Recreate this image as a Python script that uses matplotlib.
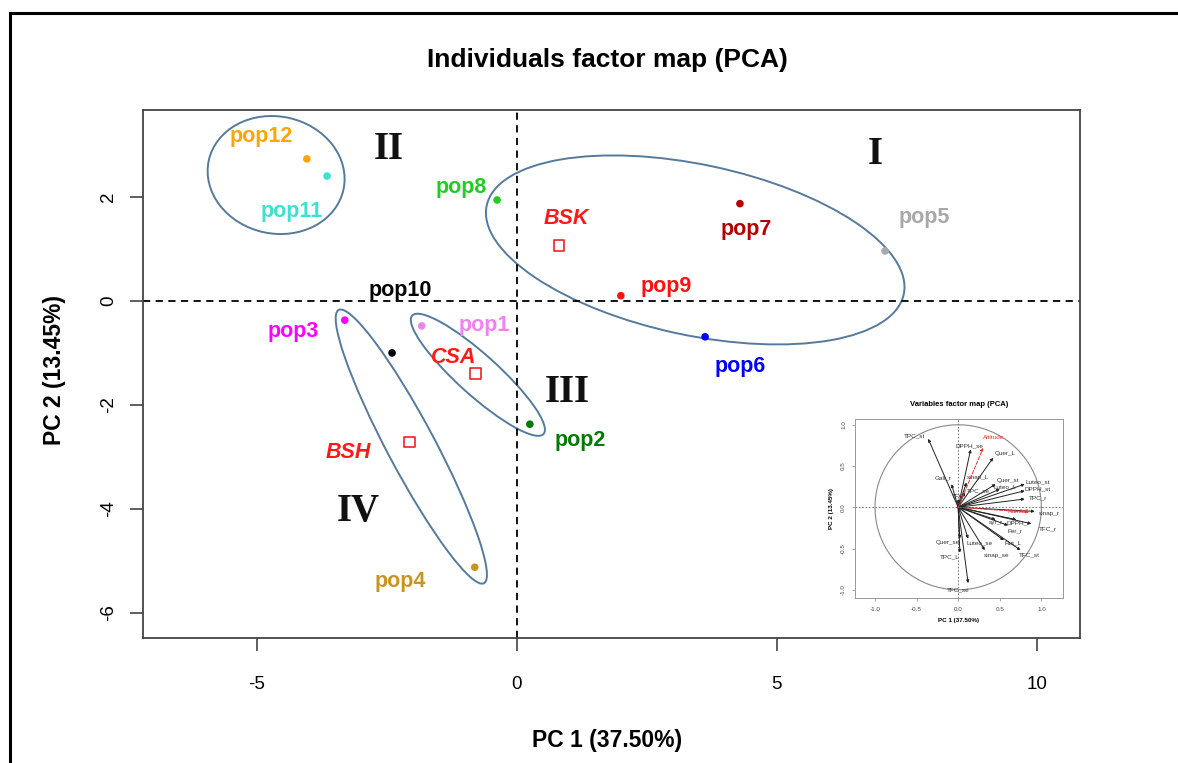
import numpy as np
import matplotlib.pyplot as plt
from matplotlib.patches import Ellipse
from matplotlib.lines import Line2D

plt.rcParams['font.family'] = ['Liberation Sans', 'DejaVu Sans']
plt.rcParams['axes.unicode_minus'] = False

# individuals (PC1, PC2)
pops = ['pop1', 'pop2', 'pop3', 'pop4', 'pop5', 'pop6', 'pop7', 'pop8',
        'pop9', 'pop10', 'pop11', 'pop12']
pc1 = [-1.83, 0.25, -3.31, -0.81, 7.08, 3.62, 4.29, -0.38, 2.00, -2.40, -3.65, -4.04]
pc2 = [-0.48, -2.37, -0.37, -5.12, 0.96, -0.69, 1.87, 1.94, 0.10, -1.00, 2.40, 2.73]
pop_colors = ['#ee82ee', '#007a00', '#ff00ff', '#c8961e', '#a8a8a8', '#0000ff',
              '#b40000', '#22cc22', '#ff1010', '#000000', '#40e0d0', '#ffa500']
# label offsets in pixels (dx, dy)
pop_offsets = [(63, 0), (50, -16), (-52, -11), (-74, -14), (39, 33), (35, -30),
               (6, -26), (-36, 12), (45, 9), (8, 62), (-35, -35), (-46, 22)]

# group barycentres
groups = ['BSK', 'CSA', 'BSH']
grp_x = [0.81, -0.79, -2.06]
grp_y = [1.06, -1.40, -2.71]
grp_offsets = [(7, 27), (-22, 16), (-61, -11)]

# cluster ellipses: centre x, centre y, width, height, angle
ell_cx = [3.43, -4.63, -0.75, -2.03]
ell_cy = [0.98, 2.42, -1.42, -2.80]
ell_w = [8.2, 2.65, 3.40, 5.95]
ell_h = [3.28, 2.25, 0.78, 0.92]
ell_ang = [-12, -12, -42, -62]

# quadrant labels
quad_names = ['I', 'II', 'III', 'IV']
quad_x = [6.9, -2.47, 0.97, -3.05]
quad_y = [2.82, 2.92, -1.77, -4.04]

# variables factor map (inset): arrow tips
var_names = ['TPC_st', 'DPPH_se', 'Quer_L', 'Gall_r', 'sinap_L', 'TPC_se', 'TFC',
             'Quer_st', 'Luteo_st', 'Luteo_L', 'DPPH_st', 'TPC_r',
             'sinap_r', 'syr_r', 'DPPH_r', 'TFC_r', 'Fer_r',
             'Rut_L', 'TFC_st', 'sinap_se', 'Luteo_se', 'Quer_se', 'TPC_L', 'TFC_se']
var_x = [-0.36, 0.15, 0.42, -0.08, 0.10, 0.08, 0.00, 0.45, 0.80, 0.50, 0.80, 0.80,
         0.92, 0.45, 0.70, 0.88, 0.60, 0.55, 0.75, 0.32, 0.12, 0.02, 0.02, 0.12]
var_y = [0.83, 0.70, 0.60, 0.28, 0.30, 0.18, 0.10, 0.28, 0.28, 0.22, 0.20, 0.10,
         -0.05, -0.15, -0.15, -0.20, -0.22, -0.40, -0.52, -0.52, -0.38, -0.38,
         -0.55, -0.92]
sup_names = ['Altitude', 'Rainfall']
sup_x = [0.30, 0.85]
sup_y = [0.72, -0.06]

# inset label positions (layout only)
var_lab = [(-0.52, 0.86), (0.14, 0.75), (0.56, 0.65), (-0.18, 0.36), (0.24, 0.36),
           (0.24, 0.20), (0.00, 0.13), (0.60, 0.32), (0.96, 0.31), (0.56, 0.25),
           (0.96, 0.22), (0.96, 0.11), (1.10, -0.07), (0.46, -0.19), (0.72, -0.19),
           (1.08, -0.26), (0.68, -0.28), (0.66, -0.43), (0.86, -0.58),
           (0.46, -0.58), (0.26, -0.43), (-0.12, -0.43), (-0.10, -0.60),
           (0.00, -1.00)]
sup_lab = [(0.42, 0.84), (0.72, -0.05)]

fig = plt.figure(figsize=(11.78, 7.63), dpi=100)
W, H = 1178, 763

# outer frame of the original picture
fig.add_artist(Line2D([10 / W, 1.0], [1 - 13 / H, 1 - 13 / H], color='black', lw=2.2))
fig.add_artist(Line2D([10 / W, 10 / W], [0.0, 1 - 13 / H], color='black', lw=2.2))

ax = fig.add_axes([143 / W, 1 - 638 / H, 937 / W, 528 / H])
ax.set_xlim(-7.19, 10.83)
ax.set_ylim(-6.48, 3.67)

ax.axhline(0, color='black', ls=(0, (4, 3)), lw=1.3)
ax.axvline(0, color='black', ls=(0, (4, 3)), lw=1.3)

for cx, cy, w, h, a in zip(ell_cx, ell_cy, ell_w, ell_h, ell_ang):
    ax.add_patch(Ellipse((cx, cy), w, h, angle=a, fill=False,
                         edgecolor='#557a9c', lw=1.4))

ax.scatter(pc1, pc2, c=pop_colors, s=30, zorder=3, edgecolors='none')
for name, x, y, col, off in zip(pops, pc1, pc2, pop_colors, pop_offsets):
    ax.annotate(name, (x, y), xytext=off, textcoords='offset pixels',
                ha='center', va='center', color=col, fontsize=15.5,
                fontweight='bold')

ax.scatter(grp_x, grp_y, marker='s', s=60, facecolors='none',
           edgecolors='#ee2222', lw=1.2, zorder=3)
for name, x, y, off in zip(groups, grp_x, grp_y, grp_offsets):
    ax.annotate(name, (x, y), xytext=off, textcoords='offset pixels',
                ha='center', va='center', color='#ff1a1a', fontsize=15.5,
                fontweight='bold', fontstyle='italic')

for name, x, y in zip(quad_names, quad_x, quad_y):
    ax.text(x, y, name, ha='center', va='center', fontsize=28,
            fontweight='bold', family='Liberation Serif', color='#111111')

ax.set_xticks([-5, 0, 5, 10])
ax.set_yticks([-6, -4, -2, 0, 2])
ax.tick_params(length=9.5, width=1.2, color='#444444', labelsize=13.5)
ax.tick_params(axis='x', pad=18)
ax.tick_params(axis='y', pad=9)
for lab in ax.get_yticklabels():
    lab.set_rotation(90)
    lab.set_va('center')
for sp in ax.spines.values():
    sp.set_color('#444444')
    sp.set_linewidth(1.3)

fig.text(607 / W, 1 - 60 / H, 'Individuals factor map (PCA)', ha='center',
         va='center', fontsize=19, fontweight='bold')
fig.text(607 / W, 1 - 740 / H, 'PC 1 (37.50%)', ha='center', va='center',
         fontsize=16.5, fontweight='bold')
fig.text(55 / W, 1 - 370 / H, 'PC 2 (13.45%)', ha='center', va='center',
         fontsize=16.5, fontweight='bold', rotation=90)

# inset: variables factor map
ins = fig.add_axes([855 / W, 1 - 598 / H, 208 / W, 179 / H])
ins.set_xlim(-1.24, 1.26)
ins.set_ylim(-1.10, 1.07)
t = np.linspace(0, 2 * np.pi, 300)
ins.plot(np.cos(t), np.sin(t), color='#888888', lw=0.8)
ins.axhline(0, color='#666666', ls=(0, (2, 2)), lw=0.6)
ins.axvline(0, color='#666666', ls=(0, (2, 2)), lw=0.6)
for name, x, y, (lx, ly) in zip(var_names, var_x, var_y, var_lab):
    ins.annotate('', xy=(x, y), xytext=(0, 0),
                 arrowprops=dict(arrowstyle='-|>', color='#222222', lw=0.7,
                                 mutation_scale=4, shrinkA=0, shrinkB=0))
    ins.text(lx, ly, name, ha='center', va='center', fontsize=4.6,
             color='#333333')
for name, x, y, (lx, ly) in zip(sup_names, sup_x, sup_y, sup_lab):
    ins.annotate('', xy=(x, y), xytext=(0, 0),
                 arrowprops=dict(arrowstyle='-|>', color='#ee3333', lw=0.7,
                                 ls='--', mutation_scale=4, shrinkA=0, shrinkB=0))
    ins.text(lx, ly, name, ha='center', va='center', fontsize=4.6,
             color='#ee3333')
ins.set_xticks([-1.0, -0.5, 0.0, 0.5, 1.0])
ins.set_yticks([-1.0, -0.5, 0.0, 0.5, 1.0])
ins.tick_params(length=2.5, width=0.5, color='#888888', labelsize=4.5, pad=4,
                labelcolor='#444444')
for lab in ins.get_yticklabels():
    lab.set_rotation(90)
    lab.set_va('center')
for sp in ins.spines.values():
    sp.set_color('#999999')
    sp.set_linewidth(0.7)
ins.set_title('Variables factor map (PCA)', fontsize=5.5, fontweight='bold',
              pad=9)
ins.set_xlabel('PC 1 (37.50%)', fontsize=4.5, fontweight='bold', labelpad=4)
ins.set_ylabel('PC 2 (13.45%)', fontsize=4.5, fontweight='bold', labelpad=5)

fig.savefig('out.png', dpi=100)
